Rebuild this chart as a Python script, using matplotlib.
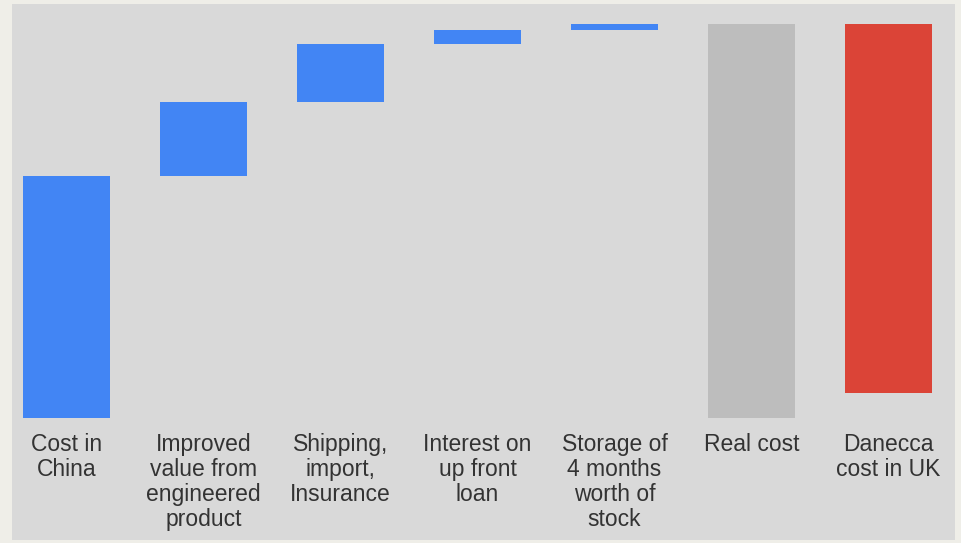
import matplotlib.pyplot as plt
from matplotlib.patches import Rectangle

plt.rcParams['font.family'] = ['Liberation Sans', 'DejaVu Sans']

categories = ["Cost in\nChina", "Improved\nvalue from\nengineered\nproduct",
              "Shipping,\nimport,\nInsurance", "Interest on\nup front\nloan",
              "Storage of\n4 months\nworth of\nstock", "Real cost",
              "Danecca\ncost in UK"]
steps = [24.2, 7.4, 5.8, 1.4, 0.6]
danecca_low = 2.5
danecca_high = 39.4

blue = "#4285f4"
grey = "#bdbdbd"
red = "#db4437"

# waterfall bottoms
bottoms = []
run = 0
for s in steps:
    bottoms.append(run)
    run += s
real_cost = run

heights = steps + [real_cost, danecca_high - danecca_low]
bottoms = bottoms + [0, danecca_low]
colors = [blue] * len(steps) + [grey, red]

fig = plt.figure(figsize=(9.61, 5.43), dpi=100)
fig.patch.set_facecolor("#efeee8")
W, H = 961, 543
# grey panel
fig.patches.append(Rectangle((12 / W, 3 / H), 943 / W, 536 / H,
                             transform=fig.transFigure, facecolor="#d9d9d9",
                             edgecolor="none", zorder=-5))

ax = fig.add_axes([12 / W, (H - 418) / H, 943 / W, 414 / H])
ax.patch.set_alpha(0)
ax.set_zorder(5)
x = list(range(len(categories)))
ax.bar(x, heights, bottom=bottoms, width=0.635, color=colors)
ax.set_xlim(-0.398, 6.485)
ax.set_ylim(0, 41.4)
ax.set_yticks([])
ax.set_xticks(x)
ax.set_xticklabels(categories, fontsize=16.5, color="#333333", linespacing=1.1)
ax.tick_params(axis='x', length=0, pad=11)
for sp in ax.spines.values():
    sp.set_visible(False)

fig.savefig("out.png", dpi=100, facecolor=fig.get_facecolor())
